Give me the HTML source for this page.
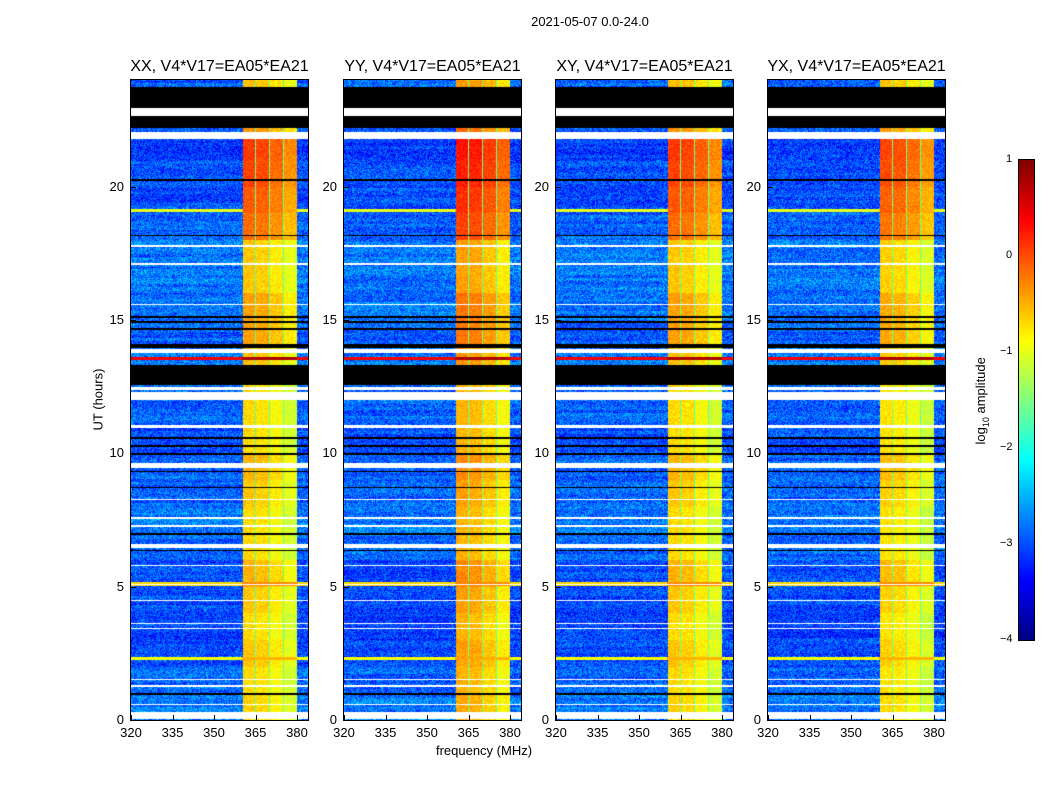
<!DOCTYPE html>
<html><head><meta charset="utf-8">
<style>
body{margin:0;background:#fff;width:1050px;height:800px;position:relative;overflow:hidden;font-family:"Liberation Sans",sans-serif;}
.t{position:absolute;color:#000;white-space:nowrap;}
canvas{position:absolute;}
</style></head><body>
<div class="t" style="left:0;width:1180px;text-align:center;top:14px;font-size:13px;">2021-05-07 0.0-24.0</div>
<div class="t" style="left:384px;width:200px;text-align:center;top:743px;font-size:13px;">frequency (MHz)</div>
<div class="t" style="left:48px;top:392px;width:100px;text-align:center;font-size:13px;transform:rotate(-90deg);">UT (hours)</div>
<div class="t" style="left:922px;top:392px;width:120px;text-align:center;font-size:13px;transform:rotate(-90deg);">log<sub style="font-size:9px">10</sub> amplitude</div>
<div id="root"></div>
<script>
// ---- data ----
const panelTitles = ["XX, V4*V17=EA05*EA21","YY, V4*V17=EA05*EA21","XY, V4*V17=EA05*EA21","YX, V4*V17=EA05*EA21"];
const panelGain = [0, 0.2, 0, -0.05];
const xTicks = [320,335,350,365,380];
const yTicks = [0,5,10,15,20];
const cbTicks = [1,0,-1,-2,-3,-4];
// background log amplitude per hour (0..23)
const bgLevel = [-2.8,-2.9,-3.0,-3.1,-3.0,-3.0,-2.9,-2.8,-2.9,-2.9,-3.0,-2.9,-2.9,-2.8,-2.9,-2.8,-2.8,-2.8,-2.9,-3.0,-3.0,-3.1,-3.0,-2.9];
// band (360-380 MHz) log amplitude per hour
const bandLevel = [-0.7,-0.75,-0.65,-0.75,-0.65,-0.55,-0.75,-0.75,-0.65,-0.55,-0.75,-0.75,-0.75,-0.6,-0.45,-0.45,-0.65,-0.65,-0.2,-0.1,0.0,0.05,-0.4,-0.6];
// sub-band offsets (361-365, 365-370, 370-375, 375-380 MHz)
const subStart = [360.5,365.3,370.3,375.3];
const subEnd = [364.9,369.9,374.9,380.0];
const subOffset = [0.05,0.0,-0.15,-0.35];
// flagged time ranges [start h, end h], type: 0=white (no data), 1=black
const flagStart = [23.75,22.95,22.65,22.05,20.28,18.2,17.8,17.15,15.6,15.15,14.95,14.7,14.1,13.9,13.3,12.5,12.3,11.05,10.6,10.3,10.0,9.63,9.35,8.75,8.3,7.6,7.3,7.0,6.6,6.38,5.82,5.1,4.5,3.65,3.45,1.55,1.3,1.0,0.6,0.3];
const flagEnd   = [22.95,22.65,22.2,21.8,20.22,18.14,17.72,17.05,15.55,15.08,14.88,14.62,13.95,13.75,12.55,12.38,12.0,10.95,10.55,10.25,9.95,9.45,9.3,8.7,8.25,7.55,7.25,6.95,6.45,6.32,5.77,5.05,4.45,3.6,3.4,1.5,1.25,0.95,0.55,0.05];
const flagType  = [1,0,1,0,1,1,0,0,0,1,1,1,1,0,1,0,0,0,1,1,1,0,1,1,0,0,0,1,0,1,0,0,0,0,0,0,0,1,0,0];
// strong RFI rows [hour, log amplitude]
const rfiHour = [13.55,19.1,5.1,2.3];
const rfiLevel = [0.4,-1.0,-0.7,-0.9];
</script>
<script>
const root=document.getElementById('root');
const PX=[131,344,556,768], PY=80, PW=177, PH=640;
const fx=f=>(f-320)*166/60, hy=h=>PH-h*PH/24;
function jet(v){let t=Math.max(0,Math.min(1,(v+4)/5));
 const c=x=>Math.max(0,Math.min(1,x));
 return [c(1.5-Math.abs(4*t-3)),c(1.5-Math.abs(4*t-2)),c(1.5-Math.abs(4*t-1))].map(x=>Math.round(x*255));}
function hash(a,b,c){let h=(a*374761393+b*668265263+c*982451653)|0;h=(h^(h>>>13))*1274126177|0;return ((h^(h>>>16))>>>0)/4294967295;}
function add(tag,name,inter,style,text){const e=document.createElement(tag);
 
 
 e.style.cssText=style; if(text!==undefined)e.innerHTML=text; root.appendChild(e); return e;}
for(let p=0;p<4;p++){
 const cv=document.createElement('canvas');
 
 
 cv.width=PW;cv.height=PH;cv.style.left=PX[p]+'px';cv.style.top=PY+'px';
 root.appendChild(cv);
 const ctx=cv.getContext('2d'),img=ctx.createImageData(PW,PH);
 for(let y=0;y<PH;y++){
  const h=(PH-y-0.5)*24/PH, hi=Math.min(23,Math.floor(h));
  let flag=-1;for(let k=0;k<flagStart.length;k++){if(h<=flagStart[k]&&h>=flagEnd[k]){flag=flagType[k];break;}}
  let rfi=null;for(let k=0;k<rfiHour.length;k++)if(Math.abs(h-rfiHour[k])<0.06)rfi=rfiLevel[k];
  for(let x=0;x<PW;x++){
   const i=(y*PW+x)*4; let col;
   if(flag===0)col=[255,255,255];else if(flag===1)col=[0,0,0];
   else{
    const f=320+(x+0.5)*60/166;
    let v=bgLevel[hi]+(hash(x,y,p)-0.5)*0.9+(hash(0,Math.floor(y/3),p)-0.5)*0.25;
    let inGap=false;
    for(let s=0;s<4;s++)if(f>=subStart[s]&&f<=subEnd[s])v=bandLevel[hi]+subOffset[s]+panelGain[p]+(hash(x,y,p+7)-0.5)*0.35;
    if(f>=subStart[0]&&f<=subEnd[3]&&v<-1.5)v=-1.6+(hash(x,y,p+3)-0.5)*0.4;
    if(rfi!==null)v=Math.max(v,rfi+(f>360&&f<380?0.4:0));
    col=jet(v);
   }
   img.data[i]=col[0];img.data[i+1]=col[1];img.data[i+2]=col[2];img.data[i+3]=255;
  }
 }
 ctx.putImageData(img,0,0);
 add('div','panel-frame-'+(p+1),'false',`position:absolute;left:${PX[p]-1}px;top:${PY-1}px;width:${PW}px;height:${PH}px;border:1px solid #000;`);
 add('div','panel-title-'+(p+1),'false',`position:absolute;left:${PX[p]-40}px;width:${PW+80}px;text-align:center;top:58px;font-size:16px;white-space:nowrap;`,panelTitles[p]);
 xTicks.forEach(v=>{const x=PX[p]+fx(v);
  add('div','x-tick','false',`position:absolute;left:${x}px;top:${PY+PH-5}px;width:1px;height:5px;background:#000;`);
  add('div','x-tick-label','false',`position:absolute;left:${x-20}px;width:40px;text-align:center;top:${PY+PH+5}px;font-size:13px;`,v);});
 yTicks.forEach(v=>{const y=PY+hy(v);
  add('div','y-tick','false',`position:absolute;left:${PX[p]}px;top:${y}px;width:5px;height:1px;background:#000;`);
  add('div','y-tick-label','false',`position:absolute;left:${PX[p]-45}px;width:38px;text-align:right;top:${y-8}px;font-size:13px;`,v);});
}
// colorbar
const cb=document.createElement('canvas');


cb.width=15;cb.height=480;cb.style.left='1019px';cb.style.top='160px';root.appendChild(cb);
const cctx=cb.getContext('2d');
for(let y=0;y<480;y++){const c=jet(1-y*5/480);cctx.fillStyle=`rgb(${c[0]},${c[1]},${c[2]})`;cctx.fillRect(0,y,15,1);}
add('div','colorbar-frame','false','position:absolute;left:1018px;top:159px;width:15px;height:480px;border:1px solid #000;');
cbTicks.forEach(v=>{const y=160+(1-v)*96;
 add('div','colorbar-tick-label','false',`position:absolute;left:${v<0?1000:1006}px;top:${y-7}px;font-size:11px;white-space:nowrap;`,v<0?'\u2212'+(-v):v);});
</script>
</body></html>
